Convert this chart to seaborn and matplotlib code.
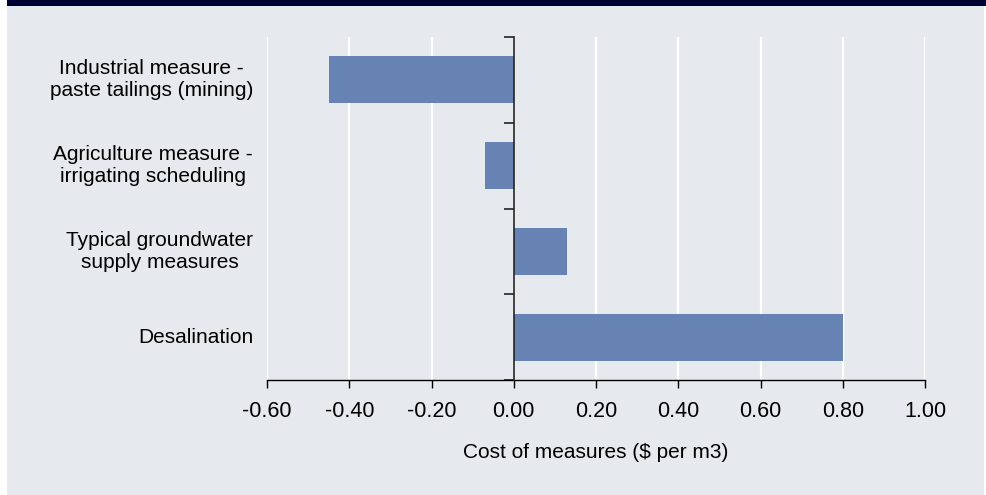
import pandas as pd
import seaborn as sns
import matplotlib.pyplot as plt
from matplotlib.patches import Rectangle
import matplotlib.transforms as mtransforms

# Data
measures = [
    "Industrial measure -\npaste tailings (mining)",
    "Agriculture measure -\nirrigating scheduling",
    "Typical groundwater\nsupply measures",
    "Desalination",
]
cost = [-0.45, -0.07, 0.13, 0.80]
xticks = [-0.6, -0.4, -0.2, 0.0, 0.2, 0.4, 0.6, 0.8, 1.0]

df = pd.DataFrame({"measure": measures, "cost": cost})

bg = "#e6e9ee"
bar_color = "#6783b3"
navy = "#000033"

sns.set_theme(style="white")
plt.rcParams["font.family"] = ["Liberation Sans", "DejaVu Sans"]

W, H = 986, 495
fig = plt.figure(figsize=(W / 100, H / 100), dpi=100, facecolor="white")

# panel background and top band
fig.patches.append(Rectangle((7 / W, 0), (984 - 7) / W, 1, transform=fig.transFigure,
                             facecolor=bg, edgecolor="none", zorder=-2))
fig.patches.append(Rectangle((7 / W, 1 - 6 / H), 1, 6 / H, transform=fig.transFigure,
                             facecolor=navy, edgecolor="none", zorder=-1))

ax = fig.add_axes([267 / W, 1 - 380 / H, (925 - 267) / W, (380 - 37) / H])
ax.set_facecolor(bg)

sns.barplot(data=df, x="cost", y="measure", orient="h", color=bar_color,
            saturation=1, width=0.55, linewidth=0, ax=ax, zorder=3)

ax.set_xlim(-0.6, 1.0)
ax.set_ylim(3.5, -0.5)
ax.set_xticks(xticks)
ax.set_xticklabels([f"{v:.2f}" for v in xticks], fontsize=15.5, color="black")
ax.grid(axis="x", color="white", linewidth=1.6, zorder=0)
ax.set_axisbelow(True)

for s in ["top", "right"]:
    ax.spines[s].set_visible(False)
ax.spines["left"].set_position(("data", 0))
ax.spines["left"].set_color("#222222")
ax.spines["left"].set_linewidth(1.2)
ax.spines["left"].set_zorder(4)
ax.spines["bottom"].set_color("black")
ax.spines["bottom"].set_linewidth(1.0)

# y ticks between categories, labels drawn at the left of the axes
ax.set_yticks([-0.5, 0.5, 1.5, 2.5, 3.5])
ax.set_yticklabels([])
ax.tick_params(axis="y", left=True, length=7, width=1.2, color="#222222")
ax.tick_params(axis="x", bottom=True, length=6, width=1.0, color="black", pad=9)

trans = mtransforms.blended_transform_factory(ax.transAxes, ax.transData)
offset = mtransforms.ScaledTranslation(-14 / 100, 0, fig.dpi_scale_trans)
for i, m in enumerate(measures):
    ax.text(0, i, m, transform=trans + offset, ha="right", va="center",
            multialignment="center", fontsize=15, color="black")

ax.set_xlabel("Cost of measures ($ per m3)", fontsize=15, color="black", labelpad=15)
ax.set_ylabel("")

fig.savefig("out.png", dpi=100, facecolor=fig.get_facecolor())
